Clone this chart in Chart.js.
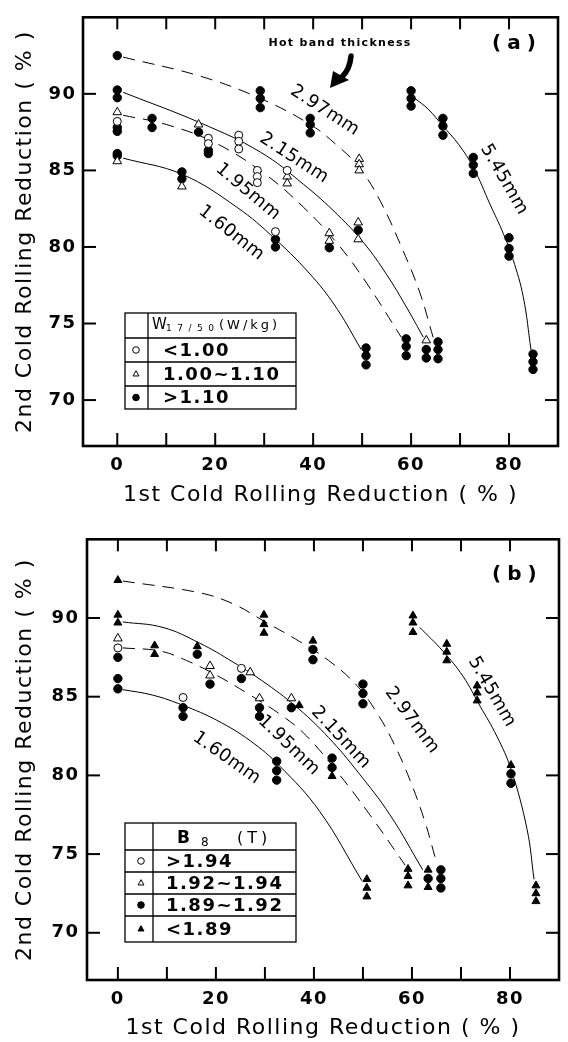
<!DOCTYPE html>
<html>
<head>
<meta charset="utf-8">
<script src="https://cdn.jsdelivr.net/npm/chart.js@4.4.1/dist/chart.umd.min.js"></script>
<style>
  html, body { margin: 0; padding: 0; background: #fff; }
  .panel { width: 568px; height: 521px; }
  canvas { display: block; }
</style>
</head>
<body>
<div class="panel"><canvas id="chartA" width="568" height="521"></canvas></div>
<div class="panel"><canvas id="chartB" width="568" height="521"></canvas></div>
<script>
// ---------- axes ----------
const X_TICK_VALUES = [0, 10, 20, 30, 40, 50, 60, 70, 80];
const X_TICK_LABELS = ['0', '', '20', '', '40', '', '60', '', '80'];
const Y_TICK_VALUES = [70, 75, 80, 85, 90];
const Y_TICK_LABELS = ['70', '75', '80', '85', '90'];
const X_TITLE = '1st Cold Rolling Reduction ( % )';
const Y_TITLE = '2nd Cold Rolling Reduction ( % )';
const CURVE_NAMES = ['1.60mm', '1.95mm', '2.15mm', '2.97mm', '5.45mm'];

// ---------- panel (a): W17/50 classes ----------
const A_LEGEND_LABELS = ['<1.00', '1.00~1.10', '>1.10'];

const A_LOW_X = [0, 18.6, 18.6, 24.8, 24.8, 24.8, 28.6, 28.6, 28.6, 32.3, 34.7];
const A_LOW_Y = [88.2, 87.1, 86.75, 87.3, 86.9, 86.4, 85.0, 84.6, 84.2, 81.0, 85.0];

const A_MID_X = [0, 0, 13.2, 16.6, 34.7, 34.7, 43.3, 43.3, 49.4, 49.4, 49.4, 49.2, 49.2, 63.1];
const A_MID_Y = [88.8, 85.6, 83.95, 88.0, 84.6, 84.15, 80.9, 80.4, 85.75, 85.4, 85.0, 81.6, 80.5, 73.9];

const A_HIGH_X = [0, 0, 0, 0, 0, 0, 0, 7.1, 7.1, 13.2, 13.2, 16.6, 18.6, 18.6,
  29.2, 29.2, 29.2, 32.3, 32.3, 39.4, 39.4, 39.4, 43.3, 49.2, 50.8, 50.8, 50.8,
  59.0, 59.0, 59.0, 63.1, 63.1, 65.5, 65.5, 65.5, 60.0, 60.0, 60.0, 66.5, 66.5, 66.5,
  72.7, 72.7, 72.7, 80.0, 80.0, 80.0, 84.9, 84.9, 84.9];
const A_HIGH_Y = [92.5, 90.25, 89.75, 87.8, 87.55, 86.1, 85.95, 88.4, 87.8, 84.9, 84.45, 87.5, 86.3, 86.1,
  90.2, 89.7, 89.1, 80.5, 80.0, 88.4, 88.0, 87.45, 79.95, 81.1, 73.4, 72.9, 72.3,
  74.0, 73.5, 72.9, 73.3, 72.75, 73.8, 73.3, 72.7, 90.2, 89.7, 89.2, 88.4, 87.9, 87.3,
  85.85, 85.35, 84.8, 80.6, 79.9, 79.4, 73.0, 72.5, 72.0];

// hot band thickness curves, panel (a)
const A_C160_X = [1.2, 13.2, 24.4, 32.3, 40, 45, 49.8];
const A_C160_Y = [85.8, 84.75, 82.6, 80.5, 78.0, 75.9, 73.3];
const A_C195_X = [1.2, 10, 20, 30, 38, 45, 51, 58];
const A_C195_Y = [88.6, 88.0, 86.8, 84.8, 82.6, 80.2, 77.6, 74.1];
const A_C215_X = [1.2, 17, 29.2, 38, 45, 50.5, 55, 59, 62.5];
const A_C215_Y = [90.1, 88.1, 86.2, 84.1, 82.1, 80.2, 78.2, 76.1, 74.1];
const A_C297_X = [1.2, 17, 29.2, 39.4, 45, 49.4, 53.7, 58.3, 61.8, 64.5];
const A_C297_Y = [92.4, 91.15, 89.7, 88.0, 86.6, 85.2, 83.0, 79.8, 77.0, 74.1];
const A_C545_X = [60.8, 63.5, 66.5, 69.7, 72.7, 76.1, 78.8, 80.8, 82.9, 84.5];
const A_C545_Y = [89.7, 89.0, 87.9, 86.7, 85.2, 82.8, 80.9, 79.2, 76.75, 73.25];

// ---------- panel (b): B8 classes ----------
const B_LEGEND_LABELS = ['>1.94', '1.92~1.94', '1.89~1.92', '<1.89'];

const B_TOP_X = [0, 13.3, 25.2];
const B_TOP_Y = [88.1, 84.95, 86.8];

const B_UPPER_X = [0, 18.8, 18.8, 27.0, 28.9, 35.4];
const B_UPPER_Y = [88.7, 86.95, 86.35, 86.55, 84.9, 84.9];

const B_MIDDLE_X = [0, 0, 0, 13.3, 13.3, 16.2, 18.8, 25.2, 28.9, 28.9, 32.4, 32.4, 32.4, 35.4,
  39.8, 39.8, 43.7, 43.7, 50.0, 50.0, 50.0, 63.3, 65.9, 65.9, 65.9, 80.2, 80.2];
const B_MIDDLE_Y = [87.5, 86.15, 85.5, 84.3, 83.75, 87.7, 85.8, 86.15, 84.3, 83.75, 80.9, 80.3, 79.7, 84.3,
  88.0, 87.35, 81.1, 80.5, 85.8, 85.2, 84.55, 73.45, 74.0, 73.45, 72.85, 80.1, 79.5];

const B_BOTTOM_X = [0, 0, 0, 7.5, 7.5, 16.2, 29.8, 29.8, 29.8, 37.0, 39.8, 43.7, 50.8, 50.8, 50.8,
  59.2, 59.2, 59.2, 63.3, 63.3, 60.2, 60.2, 60.2, 67.1, 67.1, 67.1, 73.3, 73.3, 73.3, 80.2,
  85.3, 85.3, 85.3];
const B_BOTTOM_Y = [92.4, 90.2, 89.7, 88.25, 87.7, 88.2, 90.2, 89.6, 89.05, 84.45, 88.55, 79.95, 73.4, 72.85, 72.3,
  74.05, 73.6, 73.0, 74.0, 72.9, 90.15, 89.7, 89.1, 88.35, 87.85, 87.3, 85.7, 85.25, 84.75, 80.65,
  73.0, 72.5, 72.0];

// hot band thickness curves, panel (b)
const B_C160_X = [1, 7.1, 13.3, 20.2, 27, 33, 41.2, 49.8];
const B_C160_Y = [85.45, 85.1, 84.45, 83.5, 82.2, 80.6, 77.7, 73.3];
const B_C195_X = [1, 8.6, 14, 20.2, 27, 33.7, 38.5, 44.3, 51.4, 58.6];
const B_C195_Y = [88.1, 87.9, 87.3, 86.35, 85.1, 83.75, 82.5, 80.4, 77.5, 74.3];
const B_C215_X = [1, 9.2, 16.7, 23.5, 30.4, 37, 43, 49, 55.5, 62.2];
const B_C215_Y = [89.75, 89.4, 88.4, 87.2, 85.8, 84.2, 82.4, 80.2, 77.5, 74.0];
const B_C297_X = [1, 16.7, 23.5, 29.8, 37.1, 43, 48.8, 53, 56.5, 59.6, 62.6, 64.9];
const B_C297_Y = [92.35, 91.6, 90.9, 89.8, 88.5, 87.3, 85.7, 83.9, 81.9, 79.7, 77.1, 74.6];
const B_C545_X = [61.6, 66.3, 70.4, 73.9, 77.3, 80.2, 83.5, 84.9];
const B_C545_Y = [89.4, 87.9, 86.3, 84.4, 82.5, 80.4, 76.55, 73.4];

// ---------- style ----------
const FONT = "'DejaVu Sans', sans-serif";
const TICK_FONT = { family: FONT, size: 18, weight: 'bold' };
const TITLE_FONT = { family: FONT, size: 22 };
const DASH = [12, 8];

const toPts = (xs, ys) => xs.map((x, i) => ({ x, y: ys[i] }));

function markers(xs, ys, style, filled, radius) {
  return {
    data: toPts(xs, ys),
    showLine: false,
    pointStyle: style,
    pointRadius: radius,
    pointBackgroundColor: filled ? '#000' : '#fff',
    pointBorderColor: '#000',
    pointBorderWidth: 1,
    order: 0,
  };
}
function curve(xs, ys, dashed) {
  return {
    data: toPts(xs, ys),
    showLine: true,
    pointRadius: 0,
    borderColor: '#000',
    borderWidth: 1,
    borderDash: dashed ? DASH : [],
    tension: 0.4,
    fill: false,
    order: 10,
  };
}

// small marker used in the legend tables
function drawMarker(ctx, style, filled, x, y, r) {
  ctx.beginPath();
  if (style === 'circle') {
    ctx.arc(x, y, r, 0, Math.PI * 2);
  } else {
    ctx.moveTo(x, y - r);
    ctx.lineTo(x + r * 0.9, y + r * 0.6);
    ctx.lineTo(x - r * 0.9, y + r * 0.6);
    ctx.closePath();
  }
  ctx.fillStyle = filled ? '#000' : '#fff';
  ctx.fill();
  ctx.lineWidth = 1;
  ctx.strokeStyle = '#000';
  ctx.stroke();
}

function hline(ctx, x1, y1, x2, y2) {
  ctx.beginPath(); ctx.moveTo(x1, y1); ctx.lineTo(x2, y2); ctx.stroke();
}

function drawTable(ctx, t) {
  ctx.save();
  ctx.strokeStyle = '#000';
  ctx.lineWidth = 1.3;
  const total = t.rows.reduce((a, b) => a + b, 0);
  ctx.strokeRect(t.x, t.y, t.w, total);
  let yy = t.y;
  for (let i = 0; i < t.rows.length - 1; i++) {
    yy += t.rows[i];
    hline(ctx, t.x, yy, t.x + t.w, yy);
  }
  hline(ctx, t.x + t.col, t.y, t.x + t.col, t.y + total);

  ctx.fillStyle = '#000';
  ctx.textBaseline = 'alphabetic';
  ctx.textAlign = 'left';
  for (const part of t.header) {
    ctx.font = part.font;
    ctx.letterSpacing = part.sp + 'px';
    ctx.fillText(part.text, part.x, part.y);
  }

  yy = t.y + t.rows[0];
  t.labels.forEach((label, i) => {
    const cy = yy + t.rows[i + 1] / 2;
    drawMarker(ctx, t.styles[i][0], t.styles[i][1], t.symX, cy, 3.3);
    ctx.fillStyle = '#000';
    ctx.font = `bold 18px ${FONT}`;
    ctx.letterSpacing = '1.5px';
    ctx.textBaseline = 'middle';
    ctx.fillText(label, t.textX, cy + 1);
    yy += t.rows[i + 1];
  });
  ctx.restore();
}

// frame, inward ticks, curve names, tables
const decoPlugin = {
  id: 'deco',
  beforeLayout(chart) { chart.ctx.letterSpacing = '1.5px'; },
  beforeDraw(chart) { chart.ctx.letterSpacing = '1.5px'; },
  afterDraw(chart, args, opts) {
    const { ctx, chartArea: a, scales: { x, y } } = chart;
    ctx.save();
    ctx.strokeStyle = '#000';
    ctx.lineWidth = 2;
    for (const v of X_TICK_VALUES) {
      const px = x.getPixelForValue(v);
      hline(ctx, px, a.bottom, px, a.bottom - 13);
      hline(ctx, px, a.top, px, a.top + 12);
    }
    for (const v of Y_TICK_VALUES) {
      const py = y.getPixelForValue(v);
      hline(ctx, a.left, py, a.left + 13, py);
      hline(ctx, a.right, py, a.right - 13, py);
    }
    ctx.lineWidth = 2.6;
    ctx.strokeRect(a.left, a.top, a.right - a.left, a.bottom - a.top);

    // curve names
    ctx.fillStyle = '#000';
    ctx.font = `18px ${FONT}`;
    ctx.letterSpacing = '0.5px';
    ctx.textAlign = 'center';
    ctx.textBaseline = 'middle';
    opts.labels.forEach((lab, i) => {
      ctx.save();
      ctx.translate(x.getPixelForValue(lab[0]), y.getPixelForValue(lab[1]));
      ctx.rotate(lab[2] * Math.PI / 180);
      ctx.fillText(CURVE_NAMES[i], 0, 0);
      ctx.restore();
    });

    // panel tag
    ctx.font = `bold 20px ${FONT}`;
    ctx.letterSpacing = '6px';
    ctx.textAlign = 'left';
    ctx.fillText(opts.tag, opts.tagPos[0], opts.tagPos[1]);

    if (opts.hotBand) {
      const [cx, cy] = opts.hotBand;
      ctx.font = `bold 11px ${FONT}`;
      ctx.letterSpacing = '1.3px';
      ctx.textAlign = 'center';
      ctx.fillText('Hot band thickness', cx, cy);
      ctx.lineWidth = 5.5;
      ctx.lineCap = 'round';
      ctx.beginPath();
      ctx.moveTo(cx + 11, cy + 13);
      ctx.quadraticCurveTo(cx + 10, cy + 26, cx + 2, cy + 34);
      ctx.stroke();
      ctx.beginPath();
      ctx.moveTo(cx - 10, cy + 45);
      ctx.lineTo(cx - 7, cy + 28);
      ctx.lineTo(cx + 9, cy + 37);
      ctx.closePath();
      ctx.fill();
    }
    ctx.restore();

    drawTable(ctx, opts.table);
  }
};

function makeChart(id, datasets, geo, deco) {
  return new Chart(document.getElementById(id), {
    type: 'scatter',
    data: { datasets },
    options: {
      responsive: false,
      animation: false,
      events: [],
      layout: { padding: { top: geo.top, right: geo.right, left: 0, bottom: 0 } },
      plugins: {
        legend: { display: false },
        tooltip: { enabled: false },
        deco,
      },
      scales: {
        x: {
          type: 'linear',
          min: geo.xMin,
          max: 90,
          grid: { display: false, drawTicks: false },
          border: { display: false },
          afterBuildTicks: (s) => { s.ticks = X_TICK_VALUES.map(v => ({ value: v })); },
          afterFit: (s) => { s.height = geo.xHeight; },
          ticks: {
            padding: 9, autoSkip: false, maxRotation: 0, color: '#000', font: TICK_FONT,
            callback: (v) => X_TICK_LABELS[X_TICK_VALUES.indexOf(v)],
          },
          title: { display: true, text: X_TITLE, color: '#000', font: TITLE_FONT,
                   padding: { top: 0, bottom: geo.xTitlePad } },
        },
        y: {
          type: 'linear',
          min: 67,
          max: 95,
          grid: { display: false, drawTicks: false },
          border: { display: false },
          afterBuildTicks: (s) => { s.ticks = Y_TICK_VALUES.map(v => ({ value: v })); },
          afterFit: (s) => { s.width = geo.yWidth; },
          ticks: {
            padding: geo.yTickPad, color: '#000', font: TICK_FONT,
            callback: (v) => Y_TICK_LABELS[Y_TICK_VALUES.indexOf(v)],
          },
          title: { display: true, text: Y_TITLE, color: '#000', font: TITLE_FONT,
                   padding: { top: 11.8, bottom: 0 } },
        },
      },
    },
    plugins: [decoPlugin],
  });
}

// ---------- panel (a) ----------
makeChart('chartA', [
  markers(A_LOW_X, A_LOW_Y, 'circle', false, 4),
  markers(A_MID_X, A_MID_Y, 'triangle', false, 5),
  markers(A_HIGH_X, A_HIGH_Y, 'circle', true, 4.2),
  curve(A_C160_X, A_C160_Y, false),
  curve(A_C195_X, A_C195_Y, true),
  curve(A_C215_X, A_C215_Y, false),
  curve(A_C297_X, A_C297_Y, true),
  curve(A_C545_X, A_C545_Y, false),
], { top: 6, right: 10, xMin: -7, xHeight: 75, xTitlePad: 12.8, yWidth: 83, yTickPad: 6.5 }, {
  // [x, y (data), angle] per curve name
  labels: [[23.3, 80.9, 38], [26.7, 83.6, 40], [36.1, 85.8, 33], [42.4, 88.9, 33], [79.0, 84.4, 60]],
  tag: '(a)', tagPos: [492, 44],
  hotBand: [340, 43],
  table: {
    x: 125, y: 313, w: 171, col: 23, rows: [25, 24, 24, 23],
    symX: 136, textX: 163,
    styles: [['circle', false], ['triangle', false], ['circle', true]],
    labels: A_LEGEND_LABELS,
    header: [
      { text: 'W', font: `15px ${FONT}`, sp: 0, x: 152, y: 329 },
      { text: '17/50', font: `9px ${FONT}`, sp: 5.5, x: 166, y: 331 },
      { text: '(W/kg)', font: `13px ${FONT}`, sp: 3, x: 219, y: 329 },
    ],
  },
});

// ---------- panel (b) ----------
makeChart('chartB', [
  markers(B_TOP_X, B_TOP_Y, 'circle', false, 4),
  markers(B_UPPER_X, B_UPPER_Y, 'triangle', false, 5),
  markers(B_MIDDLE_X, B_MIDDLE_Y, 'circle', true, 4.2),
  markers(B_BOTTOM_X, B_BOTTOM_Y, 'triangle', true, 4.6),
  curve(B_C160_X, B_C160_Y, false),
  curve(B_C195_X, B_C195_Y, true),
  curve(B_C215_X, B_C215_Y, false),
  curve(B_C297_X, B_C297_Y, true),
  curve(B_C545_X, B_C545_Y, false),
], { top: 16, right: 9, xMin: -6.3, xHeight: 62, xTitlePad: 0.8, yWidth: 87, yTickPad: 7.5 }, {
  labels: [[22.2, 81.1, 35], [34.9, 81.9, 44], [45.5, 82.4, 47], [60.0, 83.5, 53], [76.3, 85.3, 60]],
  tag: '(b)', tagPos: [492, 54],
  hotBand: null,
  table: {
    x: 125, y: 302, w: 171, col: 28, rows: [27, 22, 22, 22, 26],
    symX: 141, textX: 166,
    styles: [['circle', false], ['triangle', false], ['circle', true], ['triangle', true]],
    labels: B_LEGEND_LABELS,
    header: [
      { text: 'B', font: `bold 17px ${FONT}`, sp: 0, x: 177, y: 322 },
      { text: '8', font: `12px ${FONT}`, sp: 0, x: 201, y: 325 },
      { text: '(T)', font: `16px ${FONT}`, sp: 4, x: 237, y: 322 },
    ],
  },
});
</script>
</body>
</html>
